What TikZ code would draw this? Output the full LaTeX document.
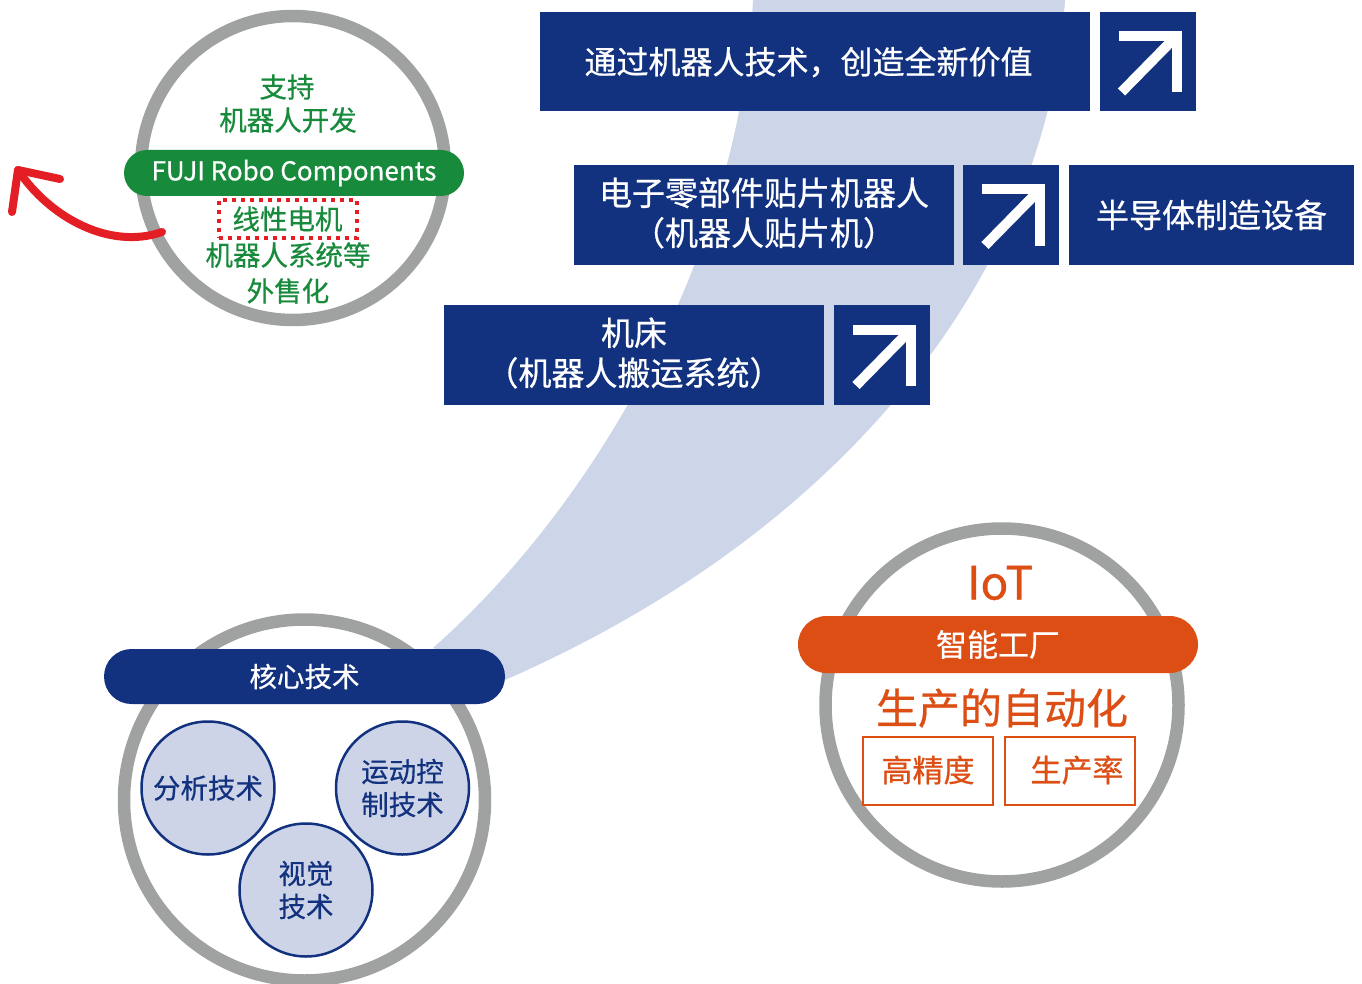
\documentclass[tikz,border=0pt]{standalone}
\usepackage{fontspec}
\setmainfont{Noto Sans CJK SC}[FakeBold=0.6]
\definecolor{navy}{HTML}{12327F}
\definecolor{swoosh}{HTML}{CDD5E8}
\definecolor{ringgray}{HTML}{A0A2A1}
\definecolor{fgreen}{HTML}{178A3C}
\definecolor{fred}{HTML}{E31E24}
\definecolor{forange}{HTML}{DC4E14}
\definecolor{paleblue}{HTML}{CDD4E7}
\tikzset{
  ring/.style={draw=ringgray, fill=white, line width=12.5, circle, inner sep=0},
  navybox/.style={fill=navy, inner sep=0},
  navytxt/.style={inner sep=0, text=white, align=center, font=\fontsize{33}{40}\selectfont},
  arrowbox/.style={fill=navy, inner sep=0, minimum width=96, minimum height=99},
  greentxt/.style={text=fgreen, font=\fontsize{27.5}{33}\selectfont, inner sep=0},
  techcirc/.style={circle, draw=navy, line width=2.5, fill=paleblue, minimum size=133, inner sep=0, text=navy, align=center, font=\fontsize{27.5}{33}\selectfont},
  orbox/.style={draw=forange, line width=2.5, minimum width=130, minimum height=68, inner sep=0},
  upright/.pic={
    \draw[white, line width=10] (-29,-25.5) -- (29,-25.5) -- (29,31);
    \draw[white, line width=10] (29,-25.5) -- (-26,30.5);
  }
}
\begin{document}
\begin{tikzpicture}[x=1pt,y=-1pt]
\useasboundingbox (0,0) rectangle (1362,984);
% swoosh
\fill[swoosh] (433,648) .. controls (600,500) and (740,250) .. (753,0)
  -- (1065,0) .. controls (1050,250) and (870,520) .. (505,680) -- cycle;

% top-left circle
\node[ring, minimum size=304] (tlc) at (293,168) {};
\node[greentxt] (t1) at (287,87) {支持};
\node[greentxt] (t2) at (288,120) {机器人开发};
\node[fill=fgreen, rounded corners=23, minimum width=340, minimum height=46, inner sep=0, text=white, font=\fontsize{26}{30}\selectfont] (fuji) at (294,173) {FUJI Robo Components};
\node[greentxt, draw=fred, dash pattern=on 4pt off 5pt, line width=4, minimum width=138, minimum height=38] (lm) at (287.5,219) {线性电机};
\node[greentxt] (t3) at (288,255) {机器人系统等};
\node[greentxt] (t4) at (288,291) {外售化};
\coordinate (as) at (162,232);
\coordinate (at) at (18,170);
\draw[fred, line width=8, line cap=round, line join=round] (as) .. controls (110,250) and (50,218) .. (at);
\draw[fred, line width=8, line cap=round, line join=round] (60,179) -- (at) -- (12,212);

% boxes
\node[navybox, minimum width=550, minimum height=99] (b1) at (815,61.5) {};
\node[navytxt, font=\fontsize{32}{40}\selectfont] (b1t) at (808.5,62) {通过机器人技术，创造全新价值};
\node[arrowbox] (a1) at (1147.5,61.5) {};
\pic at (a1.center) {upright};
\node[navybox, minimum width=380, minimum height=100] (b2) at (764,215) {};
\node[navytxt] (b2t) at (764,213) {电子零部件贴片机器人\\（机器人贴片机）};
\node[arrowbox, minimum height=100] (a2) at (1011,215) {};
\pic at (a2.center) {upright};
\node[navybox, minimum width=285, minimum height=100] (b3) at (1211.5,215) {};
\node[navytxt] (b3t) at (1211.5,215) {半导体制造设备};
\node[navybox, minimum width=380, minimum height=100] (b4) at (634,355) {};
\node[navytxt] (b4t) at (634,353) {机床\\（机器人搬运系统）};
\node[arrowbox, minimum height=100] (a4) at (882,355) {};
\pic at (a4.center) {upright};

% core technology circle
\node[ring, minimum size=361] (core) at (304.5,800) {};
\node[fill=navy, rounded corners=27.5, minimum width=401, minimum height=55, inner sep=0, text=white, font=\fontsize{27.5}{33}\selectfont] (corep) at (304.5,676.5) {核心技术};
\node[techcirc] (c1) at (208,788) {分析技术};
\node[techcirc] (c2) at (402.5,788) {运动控\\制技术};
\node[techcirc] (c3) at (306,890) {视觉\\技术};

% IoT circle
\node[ring, minimum size=353] (iot) at (1002,705) {};
\node[text=forange, font=\fontsize{46}{50}\selectfont, inner sep=0] (iott) at (1000,583) {IoT};
\node[fill=forange, rounded corners=28.5, minimum width=400, minimum height=57, inner sep=0, text=white, font=\fontsize{31}{36}\selectfont] (sf) at (998,644.5) {智能工厂};
\node[text=forange, font=\fontsize{42}{46}\selectfont, inner sep=0] (auto) at (1002,708) {生产的自动化};
\node[orbox] (hp) at (928,771) {};
\node[text=forange, font=\fontsize{31}{36}\selectfont, inner sep=0] (hpt) at (928,770) {高精度};
\node[orbox] (pr) at (1070,771) {};
\node[text=forange, font=\fontsize{31}{36}\selectfont, inner sep=0] (prt) at (1077,770) {生产率};
\end{tikzpicture}
\end{document}
